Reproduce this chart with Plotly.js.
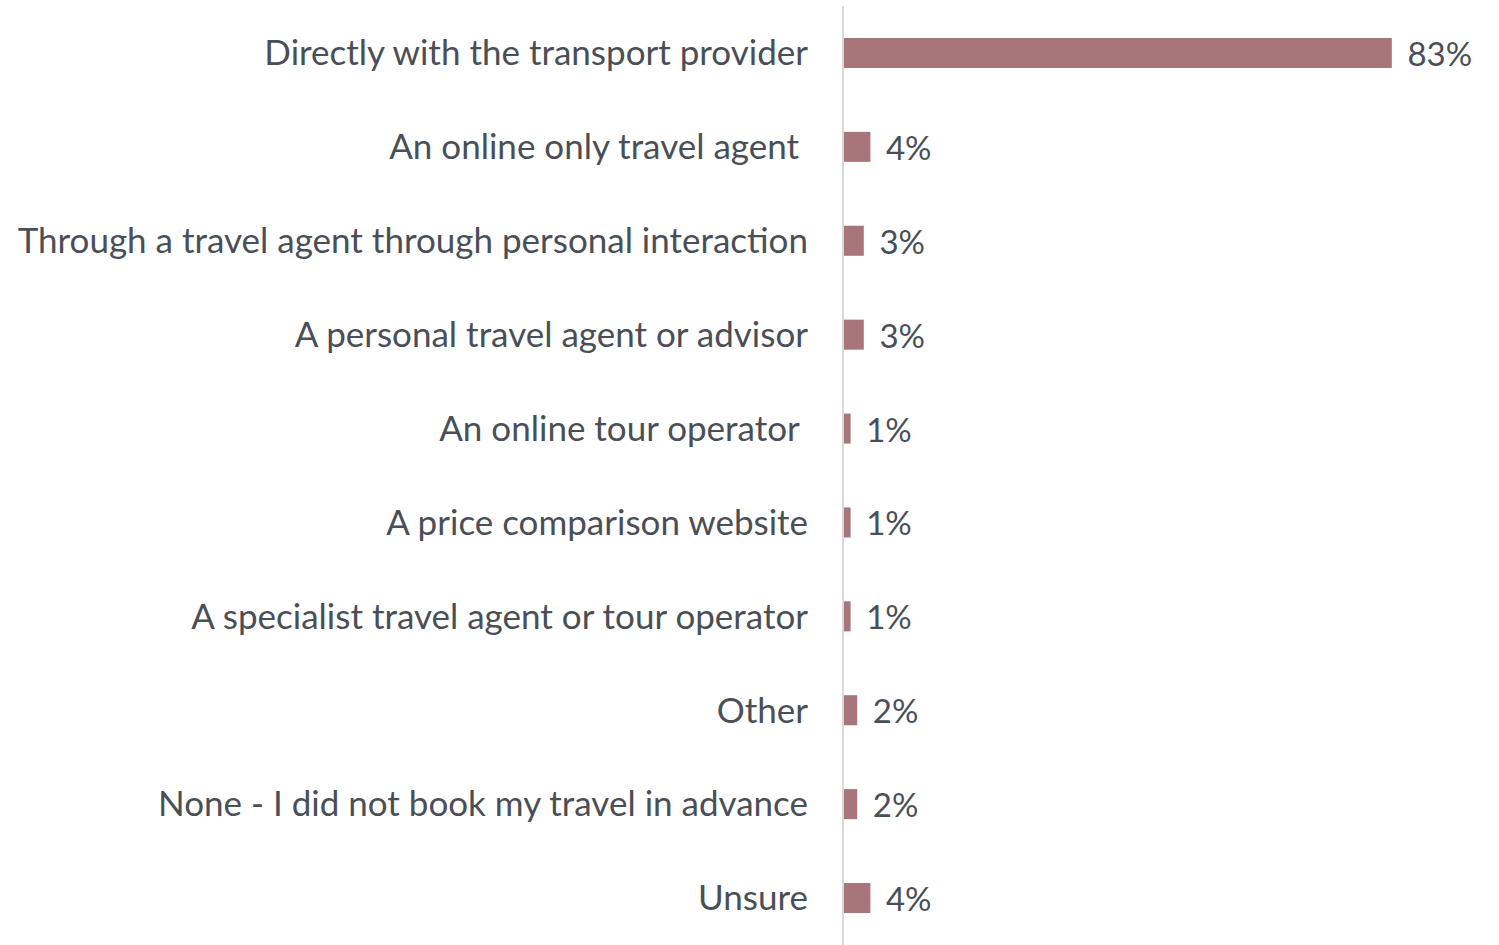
<!DOCTYPE html>
<html>
<head>
<meta charset="utf-8">
<script src="https://cdn.plot.ly/plotly-3.0.1.min.js"></script>
<style>html,body{margin:0;padding:0;background:#fff;}#chart{width:1499px;height:945px;}</style>
</head>
<body>
<div id="chart"></div>
<script>
const categories = [
  "Directly with the transport provider",
  "An online only travel agent ",
  "Through a travel agent through personal interaction",
  "A personal travel agent or advisor",
  "An online tour operator ",
  "A price comparison website",
  "A specialist travel agent or tour operator",
  "Other",
  "None - I did not book my travel in advance",
  "Unsure"
];
const values = [83, 4, 3, 3, 1, 1, 1, 2, 2, 4];
const valueLabels = ["83%", "4%", "3%", "3%", "1%", "1%", "1%", "2%", "2%", "4%"];

const tickText = categories.map(c => c.replace(/ +$/, m => "\u00a0".repeat(m.length)));
const FONT = "Lato, 'Open Sans', sans-serif";
const TXT = "#4a4f57";

const trace = {
  type: "bar",
  orientation: "h",
  y: categories,
  x: values,
  text: valueLabels.map(v => "\u00a0\u2009" + v),
  textposition: "outside",
  constraintext: "none",
  textfont: {family: FONT, size: 33, color: TXT},
  cliponaxis: false,
  marker: {color: "#a8767a"},
  hoverinfo: "none"
};

const layout = {
  width: 1499,
  height: 945,
  margin: {l: 844, r: 0, t: 6, b: 0},
  paper_bgcolor: "#ffffff",
  plot_bgcolor: "#ffffff",
  showlegend: false,
  bargap: 0.68,
  font: {family: FONT, color: TXT},
  xaxis: {
    range: [0, 99.24],
    showgrid: false,
    zeroline: false,
    showticklabels: false,
    showline: false,
    fixedrange: true
  },
  yaxis: {
    type: "category",
    autorange: "reversed",
    tickvals: categories,
    ticktext: tickText,
    showline: true,
    linecolor: "#d9d9d9",
    linewidth: 2,
    showgrid: false,
    zeroline: false,
    ticks: "",
    ticklabelstandoff: 27,
    tickfont: {family: FONT, size: 35, color: TXT}
  }
};

Plotly.newPlot("chart", [trace], layout, {displayModeBar: false, staticPlot: true});
</script>
</body>
</html>
